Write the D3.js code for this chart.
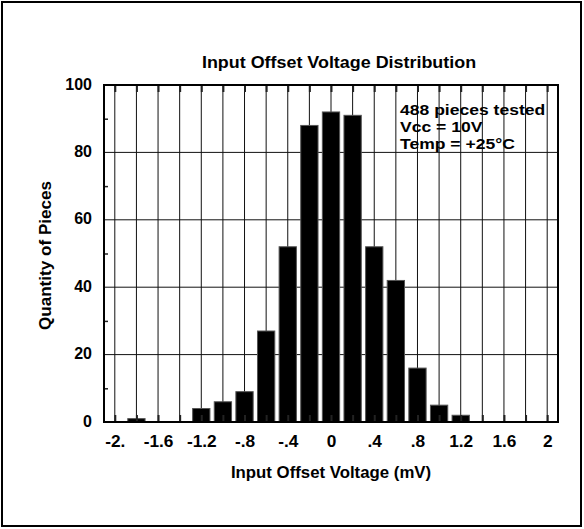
<!DOCTYPE html>
<html>
<head>
<meta charset="utf-8">
<script src="https://cdn.jsdelivr.net/npm/d3@7"></script>
<style>
  body { margin: 0; background: #fff; }
  text { font-family: "Liberation Sans", Arial, sans-serif; font-weight: bold; fill: #000; }
</style>
</head>
<body>
<div id="chart"></div>
<script>
// histogram bins (mV) and how many parts fell in each
var binCenters = [-2.0, -1.8, -1.6, -1.4, -1.2, -1.0, -0.8, -0.6, -0.4, -0.2, 0.0, 0.2, 0.4, 0.6, 0.8, 1.0, 1.2, 1.4, 1.6, 1.8, 2.0]
var counts     = [0, 1, 0, 0, 4, 6, 9, 27, 52, 88, 92, 91, 52, 42, 16, 5, 2, 0, 0, 0, 0]

var xTickValues = [-2.0, -1.6, -1.2, -0.8, -0.4, 0, 0.4, 0.8, 1.2, 1.6, 2.0]
var xTickLabels = ["-2.", "-1.6", "-1.2", "-.8", "-.4", "0", ".4", ".8", "1.2", "1.6", "2"]
var xGridValues = [-2.0, -1.8, -1.6, -1.4, -1.2, -1.0, -0.8, -0.6, -0.4, -0.2, 0, 0.2, 0.4, 0.6, 0.8, 1.0, 1.2, 1.4, 1.6, 1.8, 2.0]
var yTickValues = [0, 20, 40, 60, 80, 100]
var yMinorValues = [10, 30, 50, 70, 90]

var notes = ["488 pieces tested", "Vcc = 10V", "Temp = +25\u00B0C"]

var width = 584, height = 529
var margin = { top: 85, right: 26, bottom: 107, left: 104 }
var w = width - margin.left - margin.right
var h = height - margin.top - margin.bottom

var svg = d3.select("#chart").append("svg")
    .attr("width", width)
    .attr("height", height)

// outer frame
svg.append("rect")
    .attr("x", 2).attr("y", 2)
    .attr("width", 579).attr("height", 524)
    .attr("fill", "none")
    .attr("stroke", "#000")
    .attr("stroke-width", 2)

var g = svg.append("g")
    .attr("transform", "translate(" + margin.left + "," + margin.top + ")")

var x = d3.scaleLinear().domain([-2.1, 2.1]).range([0, w])
var y = d3.scaleLinear().domain([0, 100]).range([h, 0])

// grid
g.selectAll(".vgrid")
    .data(xGridValues)
    .enter().append("line")
    .attr("class", "vgrid")
    .attr("x1", function (d) { return x(d) }).attr("x2", function (d) { return x(d) })
    .attr("y1", 0).attr("y2", h)
    .attr("stroke", "#111").attr("stroke-width", 1)

g.selectAll(".hgrid")
    .data(yTickValues.slice(1, -1))
    .enter().append("line")
    .attr("class", "hgrid")
    .attr("x1", 0).attr("x2", w)
    .attr("y1", function (d) { return y(d) }).attr("y2", function (d) { return y(d) })
    .attr("stroke", "#111").attr("stroke-width", 1)

// bars
var barW = x(0.08) - x(-0.08)
g.selectAll(".bar")
    .data(binCenters.map(function (c, i) { return { c: c, n: counts[i] } }).filter(function (d) { return d.n > 0 }))
    .enter().append("rect")
    .attr("class", "bar")
    .attr("x", function (d) { return x(d.c) - barW / 2 })
    .attr("width", barW)
    .attr("y", function (d) { return y(d.n) })
    .attr("height", function (d) { return y(0) - y(d.n) })
    .attr("fill", "#000")
    .attr("stroke", "#555")
    .attr("stroke-width", 1)

// inner ticks on top and bottom
g.append("g")
    .attr("transform", "translate(0," + h + ")")
    .call(d3.axisBottom(x).tickValues(xGridValues).tickSize(-7).tickFormat(""))
    .call(function (a) { a.select(".domain").remove() })
    .selectAll("line").attr("stroke-width", 2).attr("stroke", "#222")

g.append("g")
    .call(d3.axisTop(x).tickValues(xGridValues).tickSize(-7).tickFormat(""))
    .call(function (a) { a.select(".domain").remove() })
    .selectAll("line").attr("stroke-width", 2).attr("stroke", "#222")

// minor ticks on left
g.append("g")
    .call(d3.axisLeft(y).tickValues(yMinorValues).tickSize(-4).tickFormat(""))
    .call(function (a) { a.select(".domain").remove() })
    .selectAll("line").attr("stroke-width", 1.5).attr("stroke", "#222")

// labels
var xAxis = g.append("g")
    .attr("transform", "translate(0," + h + ")")
    .call(d3.axisBottom(x).tickValues(xTickValues).tickSize(0).tickPadding(14)
        .tickFormat(function (d, i) { return xTickLabels[i] }))
xAxis.select(".domain").remove()
xAxis.selectAll("text").attr("font-size", 16).attr("transform", "scale(1.08,1)")
    .style("font-family", "Liberation Sans, Arial, sans-serif").style("font-weight", "bold")

var yAxis = g.append("g")
    .call(d3.axisLeft(y).tickValues(yTickValues).tickSize(0).tickPadding(12))
yAxis.select(".domain").remove()
yAxis.selectAll("text").attr("font-size", 16).attr("dy", "0.25em")
    .style("font-family", "Liberation Sans, Arial, sans-serif").style("font-weight", "bold")

// plot frame
g.append("rect")
    .attr("width", w).attr("height", h)
    .attr("fill", "none")
    .attr("stroke", "#000")
    .attr("stroke-width", 2)

// titles
svg.append("text")
    .attr("transform", "translate(" + (margin.left + w / 2 + 8) + ",68) scale(1.12,1)")
    .attr("text-anchor", "middle")
    .attr("font-size", 16)
    .text("Input Offset Voltage Distribution")

svg.append("text")
    .attr("transform", "translate(" + (margin.left + w / 2) + ",478) scale(1.05,1)")
    .attr("text-anchor", "middle")
    .attr("font-size", 16)
    .text("Input Offset Voltage (mV)")

svg.append("text")
    .attr("transform", "translate(51," + (margin.top + h / 2 + 2) + ") rotate(-90) scale(1.07,1)")
    .attr("text-anchor", "middle")
    .attr("font-size", 16)
    .text("Quantity of Pieces")

// test conditions, one block of three lines
var note = svg.append("text")
    .attr("transform", "translate(400,115) scale(1.17,1)")
    .attr("font-size", 15)
note.selectAll("tspan")
    .data(notes)
    .enter().append("tspan")
    .attr("x", 0)
    .attr("dy", function (d, i) { return i == 0 ? 0 : 17 })
    .text(function (d) { return d })
</script>
</body>
</html>
